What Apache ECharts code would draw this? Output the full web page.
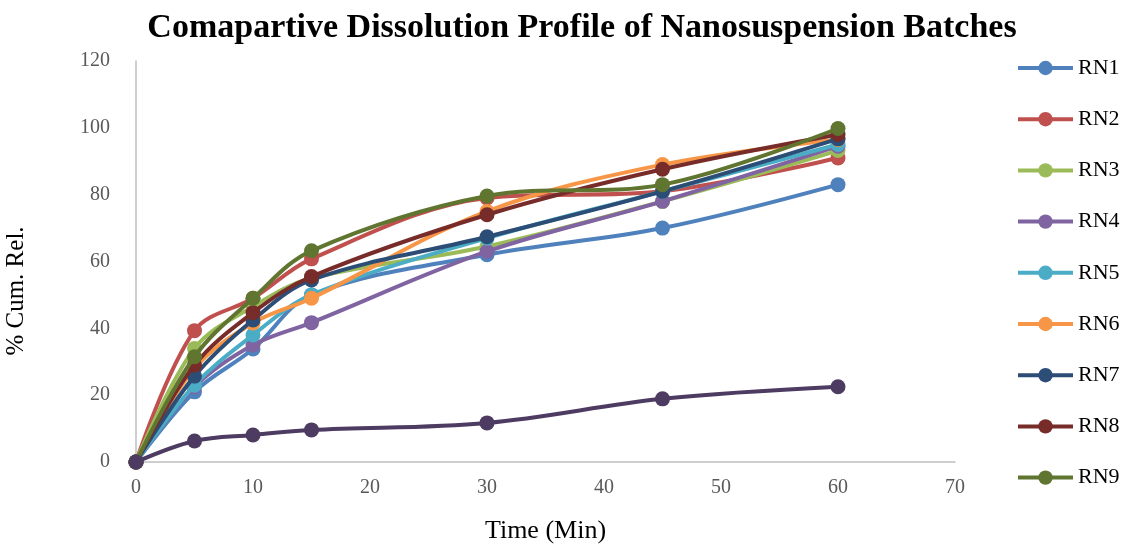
<!DOCTYPE html>
<html><head><meta charset="utf-8">
<script src="https://cdn.jsdelivr.net/npm/echarts@6/dist/echarts.min.js"></script>
<style>html,body{margin:0;padding:0;background:#fff}#c{width:1124px;height:545px}</style>
</head><body><div id="c"></div>
<script>
const time = [0, 5, 10, 15, 30, 45, 60];
const RN1 = [0, 21, 33.8, 50, 62, 70, 83];
const RN2 = [0, 39.3, 49, 60.8, 79, 81, 91];
const RN3 = [0, 34, 46.5, 55, 64.5, 78, 93.2];
const RN4 = [0, 22.5, 35, 41.7, 63, 78, 94.5];
const RN5 = [0, 23, 38, 50, 67, 81, 95];
const RN6 = [0, 28, 41.6, 49, 75, 89, 96.5];
const RN7 = [0, 25.7, 42.5, 54.5, 67.4, 81, 96.7];
const RN8 = [0, 29, 44.7, 55.5, 74, 87.6, 98];
const RN9 = [0, 31.5, 49, 63.2, 79.6, 83, 99.8];
const PURE = [0, 6.3, 8.1, 9.6, 11.7, 18.9, 22.5];
const names = ['RN1','RN2','RN3','RN4','RN5','RN6','RN7','RN8','RN9'];
const colors = ['#4F81BD','#C0504D','#9BBB59','#8064A2','#4BACC6','#F79646','#2C4D75','#772C2A','#5F7530'];
const values = [RN1, RN2, RN3, RN4, RN5, RN6, RN7, RN8, RN9];
const xTicks = [0,10,20,30,40,50,60,70];
const yTicks = [0,20,40,60,80,100,120];

const font = '"Liberation Serif", "DejaVu Serif", serif';
function mk(name, vals, color, z) {
  return {
    name: name, type: 'line', smooth: 0.35,
    data: time.map((t, i) => [t, vals[i]]),
    symbol: 'circle', symbolSize: 15,
    lineStyle: {width: 4, color: color},
    itemStyle: {color: color},
    z: z
  };
}
const series = names.map((n, i) => mk(n, values[i], colors[i], 2 + i));
series.push(mk('Pure', PURE, '#4D3B62', 20));

const chart = echarts.init(document.getElementById('c'));
chart.setOption({
  animation: false,
  title: {
    text: 'Comapartive Dissolution Profile of Nanosuspension Batches',
    left: 577, top: 6, textAlign: 'center',
    textStyle: {fontFamily: font, fontWeight: 'bold', fontSize: 34, color: '#000'}
  },
  legend: {
    orient: 'vertical', left: 1011, top: 52,
    data: names, itemGap: 29.2, itemWidth: 55, itemHeight: 18,
    lineStyle: {width: 4},
    textStyle: {fontFamily: font, fontSize: 22, color: '#000', padding: [0,0,0,0]}
  },
  graphic: [{
    type: 'text', x: 16, y: 291, rotation: Math.PI / 2,
    style: {text: '% Cum. Rel.', font: '25px ' + font, fill: '#000', align: 'center', verticalAlign: 'middle'}
  }],
  grid: {left: 136, right: 1124 - 955, top: 61, bottom: 545 - 462, containLabel: false, outerBoundsMode: 'none'},
  xAxis: {
    type: 'value', min: 0, max: 70, interval: 10,
    name: 'Time (Min)', nameLocation: 'middle', nameGap: 56,
    nameTextStyle: {fontFamily: font, fontSize: 26, color: '#000'},
    axisLine: {show: true, lineStyle: {color: '#BFBFBF', width: 1.5}},
    axisTick: {show: false}, splitLine: {show: false},
    axisLabel: {fontFamily: font, fontSize: 20, color: '#595959', margin: 16,
      formatter: v => xTicks.includes(v) ? String(v) : ''}
  },
  yAxis: {
    type: 'value', min: 0, max: 120, interval: 20,
    axisLine: {show: true, lineStyle: {color: '#BFBFBF', width: 1.5}},
    axisTick: {show: false}, splitLine: {show: false},
    axisLabel: {fontFamily: font, fontSize: 20, color: '#595959', margin: 26,
      formatter: v => yTicks.includes(v) ? String(v) : ''}
  },
  series: series
});
</script></body></html>
